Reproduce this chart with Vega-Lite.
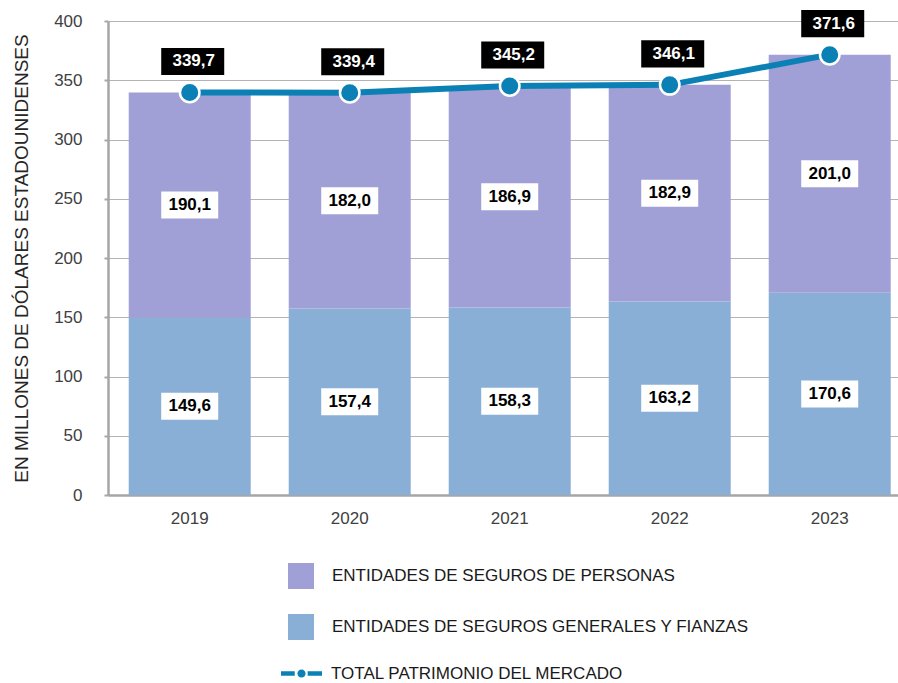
{
  "$schema": "https://vega.github.io/schema/vega-lite/v6.json",
  "width": 790,
  "height": 474,
  "autosize": {"type": "none"},
  "padding": {"left": 108, "top": 21, "right": 0, "bottom": 188},
  "background": "#ffffff",
  "config": {
    "font": "Liberation Sans",
    "view": {"stroke": null},
    "locale": {"number": {"decimal": ",", "thousands": ".", "grouping": [3], "currency": ["$", ""]}}
  },
  "data": {
    "values": [
      {"anio": "2019", "serie": "ENTIDADES DE SEGUROS GENERALES Y FIANZAS", "orden": 1, "valor": 149.6},
      {"anio": "2019", "serie": "ENTIDADES DE SEGUROS DE PERSONAS", "orden": 2, "valor": 190.1},
      {"anio": "2020", "serie": "ENTIDADES DE SEGUROS GENERALES Y FIANZAS", "orden": 1, "valor": 157.4},
      {"anio": "2020", "serie": "ENTIDADES DE SEGUROS DE PERSONAS", "orden": 2, "valor": 182.0},
      {"anio": "2021", "serie": "ENTIDADES DE SEGUROS GENERALES Y FIANZAS", "orden": 1, "valor": 158.3},
      {"anio": "2021", "serie": "ENTIDADES DE SEGUROS DE PERSONAS", "orden": 2, "valor": 186.9},
      {"anio": "2022", "serie": "ENTIDADES DE SEGUROS GENERALES Y FIANZAS", "orden": 1, "valor": 163.2},
      {"anio": "2022", "serie": "ENTIDADES DE SEGUROS DE PERSONAS", "orden": 2, "valor": 182.9},
      {"anio": "2023", "serie": "ENTIDADES DE SEGUROS GENERALES Y FIANZAS", "orden": 1, "valor": 170.6},
      {"anio": "2023", "serie": "ENTIDADES DE SEGUROS DE PERSONAS", "orden": 2, "valor": 201.0}
    ]
  },
  "transform": [
    {"stack": "valor", "groupby": ["anio"], "sort": [{"field": "orden", "order": "ascending"}], "as": ["v0", "v1"]},
    {"calculate": "(datum.v0 + datum.v1) / 2", "as": "vmid"}
  ],
  "encoding": {
    "x": {
      "field": "anio",
      "type": "ordinal",
      "scale": {"paddingInner": 0.2375, "paddingOuter": 0.0875, "align": 0.74},
      "axis": {
        "title": null,
        "labelAngle": 0,
        "labelFontSize": 17,
        "labelColor": "#404040",
        "ticks": false,
        "domainColor": "#a6a6a6",
        "domainWidth": 2.5,
        "labelPadding": 15,
        "grid": false
      }
    }
  },
  "layer": [
    {
      "mark": {"type": "bar"},
      "encoding": {
        "y": {
          "field": "v0",
          "type": "quantitative",
          "title": "EN MILLONES DE DÓLARES ESTADOUNIDENSES",
          "scale": {"domain": [0, 400], "nice": false},
          "axis": {
            "values": [0, 50, 100, 150, 200, 250, 300, 350, 400],
            "grid": true,
            "gridColor": "#b3b3b3",
            "gridWidth": 1,
            "domainColor": "#a6a6a6",
            "domainWidth": 2.5,
            "tickColor": "#a6a6a6",
            "tickSize": 4,
            "tickWidth": 2,
            "labelPadding": 22,
            "labelFontSize": 17,
            "labelColor": "#404040",
            "titleFontSize": 19,
            "titleFontWeight": "normal",
            "titleColor": "#262626",
            "titlePadding": 22
          }
        },
        "y2": {"field": "v1"},
        "fill": {
          "field": "serie",
          "type": "nominal",
          "scale": {
            "domain": ["ENTIDADES DE SEGUROS DE PERSONAS", "ENTIDADES DE SEGUROS GENERALES Y FIANZAS"],
            "range": ["#a09fd6", "#8aafd6"]
          },
          "legend": {
            "orient": "none",
            "legendX": 180,
            "legendY": 542,
            "title": null,
            "direction": "vertical",
            "symbolType": "square",
            "symbolSize": 676,
            "symbolStrokeWidth": 0,
            "labelFontSize": 17,
            "labelColor": "#1a1a1a",
            "labelOffset": 18,
            "rowPadding": 25,
            "labelLimit": 600
          }
        }
      }
    },
    {
      "mark": {"type": "point", "shape": "M-1,-0.474H1V0.474H-1Z", "size": 3249, "filled": true, "fill": "#ffffff", "strokeWidth": 0, "opacity": 1},
      "encoding": {
        "y": {"field": "vmid", "type": "quantitative", "title": "EN MILLONES DE DÓLARES ESTADOUNIDENSES"}
      }
    },
    {
      "mark": {"type": "text", "fontSize": 17, "fontWeight": "bold", "color": "#000000"},
      "encoding": {
        "y": {"field": "vmid", "type": "quantitative", "title": "EN MILLONES DE DÓLARES ESTADOUNIDENSES"},
        "text": {"field": "valor", "type": "quantitative", "format": ".1f"}
      }
    },
    {
      "mark": {"type": "line", "strokeWidth": 6},
      "encoding": {
        "y": {"aggregate": "sum", "field": "valor", "type": "quantitative", "title": "EN MILLONES DE DÓLARES ESTADOUNIDENSES"},
        "stroke": {
          "datum": "TOTAL PATRIMONIO DEL MERCADO",
          "type": "nominal",
          "scale": {"range": ["#0a80b4"]},
          "legend": {
            "orient": "none",
            "legendX": 173,
            "legendY": 632,
            "title": null,
            "symbolType": "M-1,-0.11H-0.33V0.11H-1Z M0.3,-0.11H1V0.11H0.3Z M0.2,0A0.2,0.2 0 1,1 -0.2,0A0.2,0.2 0 1,1 0.2,0Z",
            "symbolSize": 1681,
            "symbolFillColor": "#0a80b4",
            "symbolStrokeWidth": 0,
            "labelFontSize": 17,
            "labelColor": "#1a1a1a",
            "labelOffset": 9,
            "labelLimit": 600
          }
        }
      }
    },
    {
      "mark": {"type": "point", "filled": true, "size": 380, "fill": "#0a80b4", "stroke": "#ffffff", "strokeWidth": 2.5, "opacity": 1},
      "encoding": {
        "y": {"aggregate": "sum", "field": "valor", "type": "quantitative", "title": "EN MILLONES DE DÓLARES ESTADOUNIDENSES"}
      }
    },
    {
      "mark": {"type": "point", "shape": "M-1,-0.43H1V0.43H-1Z", "size": 3969, "filled": true, "fill": "#000000", "strokeWidth": 0, "opacity": 1, "yOffset": -31, "xOffset": 3},
      "encoding": {
        "y": {"aggregate": "sum", "field": "valor", "type": "quantitative", "title": "EN MILLONES DE DÓLARES ESTADOUNIDENSES"}
      }
    },
    {
      "mark": {"type": "text", "fontSize": 17, "fontWeight": "bold", "color": "#ffffff", "yOffset": -31, "xOffset": 4},
      "encoding": {
        "y": {"aggregate": "sum", "field": "valor", "type": "quantitative", "title": "EN MILLONES DE DÓLARES ESTADOUNIDENSES"},
        "text": {"aggregate": "sum", "field": "valor", "type": "quantitative", "format": ".1f"}
      }
    }
  ]
}
